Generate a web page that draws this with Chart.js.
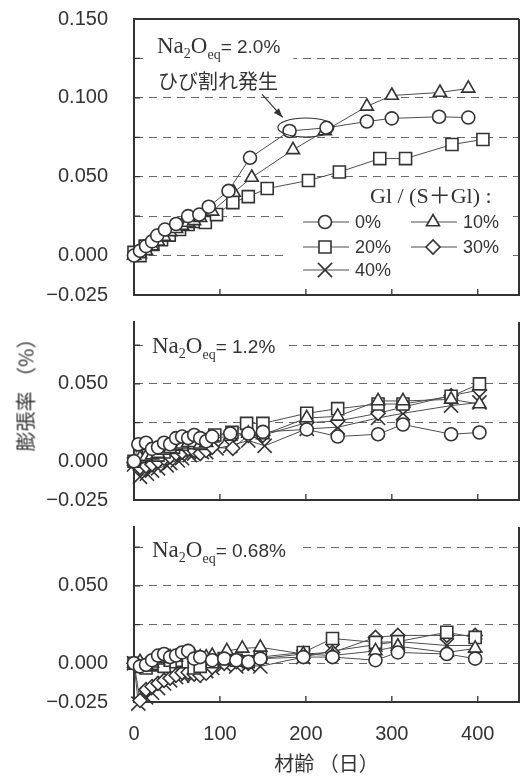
<!DOCTYPE html>
<html lang="ja">
<head>
<meta charset="utf-8">
<title>膨張率の経時変化</title>
<script src="https://cdn.jsdelivr.net/npm/chart.js@4.4.1/dist/chart.umd.min.js"></script>
<style>
  html, body { margin: 0; background: #fff; }
  #wrap { position: relative; width: 520px; height: 777px; overflow: hidden; }
  canvas { position: absolute; left: 0; }
  #ytitle {
    position: absolute; left: 25px; top: 390px;
    transform: translate(-50%, -50%) rotate(-90deg);
    font: 20px "Noto Sans CJK JP"; color: #333; white-space: nowrap;
  }
</style>
</head>
<body>
<div id="wrap">
  <canvas id="c1" width="520" height="307" style="top:0"></canvas>
  <canvas id="c2" width="520" height="212" style="top:300px"></canvas>
  <canvas id="c3" width="520" height="272" style="top:505px"></canvas>
  <div id="ytitle">膨張率 （%）</div>
</div>
<script>
// 凡例: Gl / (S+Gl)
const SERIES = ["0%", "10%", "20%", "30%", "40%"];
const STYLES = ["circle", "triangle", "rect", "rectRot", "crossRot"];
const RADII = [6.5, 7.5, 8.5, 7, 10];

// Na2Oeq = 2.0%  [材齢(日), 膨張率(%)]
const na20_0 = [[0,0],[7,0.003],[14,0.006],[21,0.009],[27,0.0127],[36,0.0165],[49,0.020],[63,0.025],[76,0.026],[87,0.031],[110,0.041],[135,0.062],[181,0.079],[224,0.081],[271,0.085],[300,0.087],[355,0.088],[389,0.0875]];
const na20_10 = [[0,0],[7,0.001],[14,0.003],[21,0.006],[28,0.009],[35,0.012],[42,0.015],[49,0.017],[56,0.019],[63,0.021],[70,0.022],[77,0.024],[91,0.028],[116,0.040],[137,0.0495],[185,0.067],[222,0.079],[271,0.0946],[300,0.1015],[356,0.1034],[389,0.106]];
const na20_20 = [[0,0.002],[7,0],[13,0.006],[22,0.007],[32,0.010],[41,0.013],[53,0.0165],[63,0.0197],[71,0.0216],[83,0.021],[96,0.026],[115,0.0336],[133,0.0374],[155,0.0425],[203,0.0476],[239,0.053],[286,0.0615],[316,0.0615],[370,0.0704],[406,0.0736]];

// Na2Oeq = 1.2%
const na12_0 = [[0,0],[5,0.011],[14,0.012],[21,0.008],[28,0.009],[35,0.012],[42,0.011],[49,0.015],[56,0.016],[63,0.015],[70,0.017],[77,0.015],[84,0.013],[91,0.016],[112,0.018],[133,0.018],[150,0.019],[201,0.0206],[237,0.016],[284,0.0175],[313,0.0238],[369,0.0175],[402,0.0186]];
const na12_10 = [[0,0],[7,0.002],[14,0.003],[21,0.004],[28,0.005],[35,0.007],[42,0.008],[49,0.010],[56,0.011],[63,0.012],[70,0.012],[77,0.011],[84,0.012],[91,0.015],[112,0.016],[133,0.018],[150,0.017],[201,0.028],[237,0.029],[284,0.039],[313,0.039],[369,0.040],[402,0.037]];
const na12_20 = [[0,0],[7,0.003],[17,0.004],[28,0.004],[35,0.006],[46,0.009],[56,0.011],[65,0.0135],[70,0.012],[77,0.0116],[84,0.014],[94,0.017],[114,0.0187],[131,0.0245],[150,0.0245],[201,0.031],[237,0.034],[284,0.037],[313,0.037],[369,0.042],[402,0.050]];
const na12_30 = [[0,-0.001],[7,-0.004],[14,-0.003],[21,-0.002],[28,0],[35,0.002],[42,0.003],[49,0.005],[56,0.006],[63,0.008],[70,0.007],[77,0.005],[84,0.007],[91,0.009],[115,0.0084],[133,0.0168],[150,0.0168],[201,0.025],[237,0.026],[284,0.031],[313,0.035],[369,0.0425],[402,0.046]];
const na12_40 = [[0,-0.002],[7,-0.010],[15,-0.008],[21,-0.006],[28,-0.0045],[38,-0.0026],[42,-0.001],[51,0.0006],[56,0.002],[65,0.004],[70,0.005],[79,0.006],[84,0.006],[96,0.0084],[112,0.010],[133,0.0135],[152,0.010],[201,0.021],[237,0.022],[284,0.028],[313,0.031],[369,0.036],[402,0.038]];

// Na2Oeq = 0.68%
const na068_0 = [[0,0],[7,-0.002],[14,-0.001],[21,0.002],[28,0.005],[35,0.006],[42,0.004],[49,0.005],[56,0.007],[63,0.008],[70,0.003],[77,0.004],[91,0.002],[105,0.003],[119,0.002],[133,0.001],[147,0.003],[197,0.004],[231,0.004],[281,0.002],[307,0.007],[364,0.006],[397,0.003]];
const na068_10 = [[0,0],[7,0.001],[14,-0.001],[21,0],[28,0.002],[35,0.003],[42,0.004],[49,0.004],[56,0.006],[63,0.007],[70,0.005],[77,0.004],[84,0.004],[91,0.005],[108,0.008],[126,0.0096],[147,0.0103],[197,0.006],[231,0.005],[281,0.008],[307,0.011],[364,0.007],[397,0.0096]];
const na068_20 = [[0,0],[7,-0.002],[14,-0.003],[21,-0.001],[28,0],[35,-0.002],[42,0.002],[49,0.001],[56,0.002],[63,0.001],[70,-0.003],[77,-0.002],[91,0.001],[105,0.003],[119,0.002],[133,0.001],[147,0.004],[197,0.007],[231,0.016],[281,0.0135],[307,0.014],[364,0.020],[397,0.0167]];
const na068_30 = [[0,0],[7,-0.024],[14,-0.017],[21,-0.015],[28,-0.013],[35,-0.011],[42,-0.0096],[49,-0.0077],[56,-0.006],[63,-0.0058],[70,-0.007],[77,-0.0077],[84,-0.0064],[91,-0.0026],[105,0],[119,0.001],[133,0],[147,0.003],[197,0.006],[231,0.007],[281,0.0167],[307,0.018],[364,0.018],[397,0.018]];
const na068_40 = [[0,0],[5,-0.026],[14,-0.022],[21,-0.019],[28,-0.016],[35,-0.013],[42,-0.011],[49,-0.009],[56,-0.008],[63,-0.007],[70,-0.008],[77,-0.006],[84,-0.005],[91,-0.003],[105,-0.001],[119,-0.002],[133,-0.001],[147,-0.002],[197,0.004],[231,0.008],[281,0.012],[307,0.014],[364,0.0115],[397,0.0115]];

const X_TICKS = [0, 100, 200, 300, 400];
const X_MAX = 448;

const INK = "#333";
const LINE = "#4d4d4d";
const GRID = "#6a6a6a";
const SANS = '"Liberation Sans", Arial, sans-serif';
const SERIF = '"Liberation Serif", "Times New Roman", serif';
const JP = '"Noto Sans CJK JP", sans-serif';

// Na2Oeq= x% のラベル（Na, O はセリフ体、下付き付き）
function drawNaLabel(ctx, x, y, value, draw) {
  const parts = [
    { t: "Na", f: `23px ${SERIF}`, dy: 0 },
    { t: "2", f: `14px ${SERIF}`, dy: 5 },
    { t: "O", f: `23px ${SERIF}`, dy: 0 },
    { t: "eq", f: `14px ${SERIF}`, dy: 6 },
    { t: `= ${value}`, f: `19px ${SANS}`, dy: 0 },
  ];
  let cx = x;
  for (const p of parts) {
    ctx.font = p.f;
    if (draw) ctx.fillText(p.t, cx, y + p.dy);
    cx += ctx.measureText(p.t).width;
  }
  return cx - x;
}

function drawLegend(ctx, a) {
  const cols = [a.left + 191, a.left + 299];
  const rows = [a.bottom - 73, a.bottom - 48, a.bottom - 25];
  ctx.fillStyle = INK;
  ctx.font = `22px ${SERIF}, "Noto Sans CJK JP"`;
  ctx.textBaseline = "alphabetic";
  ctx.fillText("Gl / (S＋Gl) :", a.left + 236, a.bottom - 92);
  ctx.font = `18px ${SANS}`;
  ctx.textBaseline = "middle";
  SERIES.forEach((name, i) => {
    const cxm = cols[i % 2], cy = rows[Math.floor(i / 2)];
    ctx.strokeStyle = LINE; ctx.lineWidth = 1;
    ctx.beginPath(); ctx.moveTo(cxm - 22, cy); ctx.lineTo(cxm + 24, cy); ctx.stroke();
    ctx.fillStyle = "#fff"; ctx.strokeStyle = INK; ctx.lineWidth = 1.6;
    Chart.helpers.drawPoint(ctx, { pointStyle: STYLES[i], radius: RADII[i], borderWidth: 1.6, rotation: 0 }, cxm, cy);
    ctx.fillStyle = INK;
    ctx.fillText(name, cxm + 30, cy + 1);
  });
}

const panelPlugin = {
  id: "panel",
  beforeDatasetsDraw(chart, args, opts) {
    const { ctx, chartArea: a, scales: { x, y } } = chart;
    ctx.save();
    // 文字の背景（格子線を隠す）
    ctx.fillStyle = "#fff";
    const lx = a.left + opts.labelDx, ly = a.top + opts.labelDy;
    const w = drawNaLabel(ctx, lx, ly, opts.value, false);
    ctx.fillRect(lx - 8, ly - 22, w + 21, 31);
    if (opts.legend) ctx.fillRect(a.left + 153, a.bottom - 113, 223, 103);
    // 枠
    ctx.strokeStyle = INK; ctx.lineWidth = 2;
    ctx.beginPath();
    if (opts.topBorder) { ctx.moveTo(a.left, a.top); ctx.lineTo(a.right, a.top); }
    ctx.moveTo(a.right, a.top); ctx.lineTo(a.right, a.bottom);
    ctx.stroke();
    // 内向きの目盛り
    ctx.lineWidth = 1.3;
    ctx.beginPath();
    for (const t of y.ticks) {
      const py = y.getPixelForValue(t.value);
      if (py <= a.top + 1 || py >= a.bottom - 1) continue;
      ctx.moveTo(a.left, py); ctx.lineTo(a.left + 6, py);
    }
    for (const v of X_TICKS) {
      if (v === 0) continue;
      const px = x.getPixelForValue(v);
      ctx.moveTo(px, a.bottom); ctx.lineTo(px, a.bottom - 6);
    }
    ctx.stroke();
    ctx.restore();
  },
  afterDatasetsDraw(chart, args, opts) {
    const { ctx, chartArea: a, scales: { x, y } } = chart;
    ctx.save();
    ctx.fillStyle = INK;
    ctx.textBaseline = "alphabetic";
    drawNaLabel(ctx, a.left + opts.labelDx, a.top + opts.labelDy, opts.value, true);
    if (opts.legend) drawLegend(ctx, a);
    if (opts.crack) {
      ctx.fillStyle = INK;
      ctx.font = `20px ${JP}`;
      ctx.textBaseline = "middle";
      ctx.fillText("ひび割れ発生", x.getPixelForValue(28), y.getPixelForValue(0.1104));
      const x0 = x.getPixelForValue(149), y0 = y.getPixelForValue(0.1022);
      const x1 = x.getPixelForValue(173), y1 = y.getPixelForValue(0.0876);
      ctx.strokeStyle = INK; ctx.lineWidth = 1.2;
      ctx.beginPath(); ctx.moveTo(x0, y0); ctx.lineTo(x1, y1); ctx.stroke();
      const ang = Math.atan2(y1 - y0, x1 - x0);
      ctx.beginPath();
      ctx.moveTo(x1, y1);
      ctx.lineTo(x1 - 10 * Math.cos(ang - 0.35), y1 - 10 * Math.sin(ang - 0.35));
      ctx.lineTo(x1 - 10 * Math.cos(ang + 0.35), y1 - 10 * Math.sin(ang + 0.35));
      ctx.closePath(); ctx.fill();
      ctx.beginPath();
      ctx.ellipse(x.getPixelForValue(200), y.getPixelForValue(0.0812), 28, 9.5, 0, 0, Math.PI * 2);
      ctx.stroke();
    }
    ctx.restore();
  },
};

function tickLabel(v) {
  const k = Math.round(v * 1000);
  if (k % 50 !== 0 && k !== -25) return "";
  return (k < 0 ? "−" : "") + Math.abs(v).toFixed(3);
}

function makeChart(id, cfg) {
  const datasets = cfg.series.map((pairs, i) => pairs && ({
    label: SERIES[i],
    data: pairs.map(([d, v]) => ({ x: d, y: v })),
    showLine: true,
    borderColor: LINE,
    borderWidth: 1,
    pointStyle: STYLES[i],
    pointRadius: RADII[i],
    pointHoverRadius: RADII[i],
    pointBackgroundColor: "#fff",
    pointBorderColor: INK,
    pointBorderWidth: 1.6,
    clip: false,
  })).filter(Boolean);

  return new Chart(document.getElementById(id), {
    type: "scatter",
    data: { datasets },
    options: {
      responsive: false,
      animation: false,
      events: [],
      layout: { padding: cfg.pad, autoPadding: false },
      plugins: { legend: { display: false }, tooltip: { enabled: false }, panel: cfg.panel },
      scales: {
        x: {
          type: "linear", min: 0, max: X_MAX,
          ticks: { display: cfg.xLabels, stepSize: 100, includeBounds: false, color: INK, padding: 20, font: { family: SANS, size: 20 } },
          grid: { display: false, drawTicks: false },
          border: { color: INK, width: 2 },
          title: { display: cfg.xLabels, text: "材齢 （日）", color: INK, font: { family: JP, size: 20 }, padding: { top: 4, bottom: 2 } },
          afterFit: (s) => { s.height = cfg.xh; },
        },
        y: {
          min: cfg.ymin, max: cfg.ymax,
          ticks: { stepSize: 0.025, includeBounds: false, color: INK, padding: 0, font: { family: SANS, size: 20 }, callback: tickLabel },
          grid: { color: GRID, lineWidth: 1, drawTicks: true, tickLength: 26, tickColor: "rgba(0,0,0,0)" },
          border: { color: INK, width: 2, dash: [8, 6] },
          afterFit: (s) => { s.width = 134; },
        },
      },
    },
    plugins: [panelPlugin],
  });
}

makeChart("c1", {
  series: [na20_0, na20_10, na20_20, null, null],
  ymin: -0.025, ymax: 0.15, xh: 0, xLabels: false,
  pad: { top: 19, right: 1, bottom: 12, left: 0 },
  panel: { value: "2.0%", labelDx: 23, labelDy: 34, legend: true, crack: true, topBorder: true },
});
makeChart("c2", {
  series: [na12_0, na12_10, na12_20, na12_30, na12_40],
  ymin: -0.025, ymax: 0.09, xh: 0, xLabels: false,
  pad: { top: 22, right: 1, bottom: 12, left: 0 },
  panel: { value: "1.2%", labelDx: 18, labelDy: 31 },
});
makeChart("c3", {
  series: [na068_0, na068_10, na068_20, na068_30, na068_40],
  ymin: -0.025, ymax: 0.088, xh: 75, xLabels: true,
  pad: { top: 22, right: 1, bottom: 0, left: 0 },
  panel: { value: "0.68%", labelDx: 18, labelDy: 30 },
});
</script>
</body>
</html>
